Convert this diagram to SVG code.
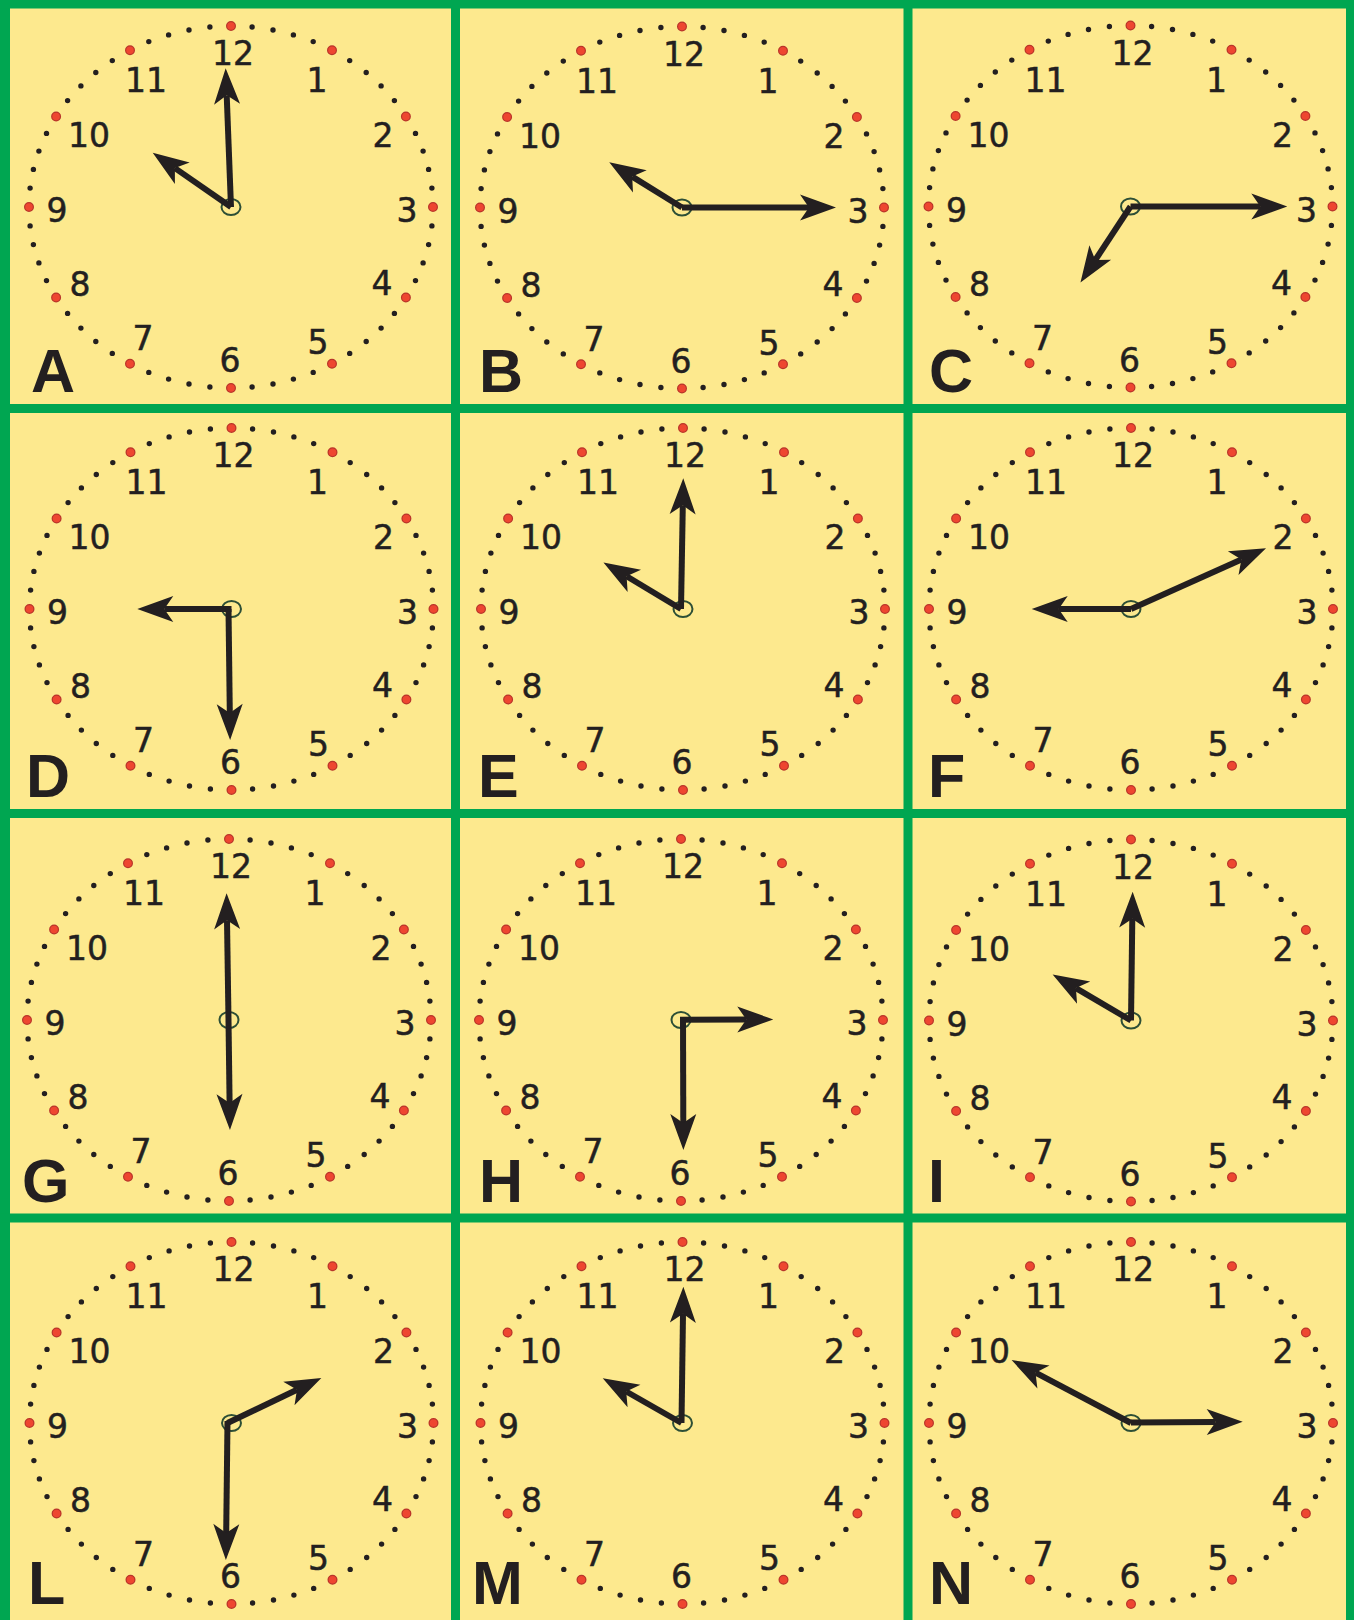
<svg xmlns="http://www.w3.org/2000/svg" xmlns:xlink="http://www.w3.org/1999/xlink" width="1354" height="1620" viewBox="0 0 1354 1620">
<style>
.bg{fill:#fde98e}
.grid{fill:#00a651}
.num{font-family:"DejaVu Sans",sans-serif;font-size:33px;fill:#231f20;stroke:#231f20;stroke-width:0.5;text-anchor:middle}
.lbl{font-family:"Liberation Sans",Arial,sans-serif;font-weight:bold;font-size:61px;fill:#231f20}
.hub{fill:none;stroke:#2d4f36;stroke-width:2}
.hand{fill:none;stroke:#231f20;stroke-width:6;marker-end:url(#head)}
</style>
<defs>
<marker id="head" markerUnits="userSpaceOnUse" orient="auto" refX="0" refY="0" markerWidth="60" markerHeight="60" overflow="visible">
<path d="M27,0 L-9,-13 L0,0 L-9,13 Z" fill="#231f20"/>
</marker>
<g id="dots">
<path fill="none" stroke="#231f20" stroke-width="5.4" stroke-linecap="round" d="M21.1,-180h0M42,-177h0M62.4,-172.1h0M82.2,-165.4h0M118.7,-146.4h0M135.2,-134.5h0M150.1,-121.1h0M163.4,-106.4h0M184.5,-73.6h0M192.1,-55.9h0M197.6,-37.6h0M200.9,-18.9h0M200.9,18.9h0M197.6,37.6h0M192.1,55.9h0M184.5,73.6h0M163.4,106.4h0M150.1,121.1h0M135.2,134.5h0M118.7,146.4h0M82.2,165.4h0M62.4,172.1h0M42,177h0M21.1,180h0M-21.1,180h0M-42,177h0M-62.4,172.1h0M-82.2,165.4h0M-118.7,146.4h0M-135.2,134.5h0M-150.1,121.1h0M-163.4,106.4h0M-184.5,73.6h0M-192.1,55.9h0M-197.6,37.6h0M-200.9,18.9h0M-200.9,-18.9h0M-197.6,-37.6h0M-192.1,-55.9h0M-184.5,-73.6h0M-163.4,-106.4h0M-150.1,-121.1h0M-135.2,-134.5h0M-118.7,-146.4h0M-82.2,-165.4h0M-62.4,-172.1h0M-42,-177h0M-21.1,-180h0"/>
<path fill="none" stroke="#b8352a" stroke-width="10" stroke-linecap="round" d="M0,-181h0M101,-156.8h0M174.9,-90.5h0M202,0h0M174.9,90.5h0M101,156.8h0M0,181h0M-101,156.8h0M-174.9,90.5h0M-202,0h0M-174.9,-90.5h0M-101,-156.8h0"/>
<path fill="none" stroke="#ee4630" stroke-width="7.6" stroke-linecap="round" d="M0,-181h0M101,-156.8h0M174.9,-90.5h0M202,0h0M174.9,90.5h0M101,156.8h0M0,181h0M-101,156.8h0M-174.9,90.5h0M-202,0h0M-174.9,-90.5h0M-101,-156.8h0"/>
</g>
</defs>
<rect class="bg" x="0" y="0" width="1354" height="1620"/>
<g id="grid">
<rect class="grid" x="0" y="0" width="10" height="1620"/>
<rect class="grid" x="451" y="0" width="9" height="1620"/>
<rect class="grid" x="903.5" y="0" width="9" height="1620"/>
<rect class="grid" x="1346" y="0" width="8" height="1620"/>
<rect class="grid" x="0" y="0" width="1354" height="8.5"/>
<rect class="grid" x="0" y="404" width="1354" height="9"/>
<rect class="grid" x="0" y="809" width="1354" height="9"/>
<rect class="grid" x="0" y="1213.5" width="1354" height="9"/>
</g>

<g id="clock-A">
<g transform="translate(231,207)">
<use xlink:href="#dots" href="#dots"/>
<text class="num" x="2" y="-142">12</text><text class="num" x="86" y="-115">1</text><text class="num" x="152" y="-60">2</text><text class="num" x="176" y="15">3</text><text class="num" x="151" y="88">4</text><text class="num" x="87" y="147">5</text><text class="num" x="-1" y="165">6</text><text class="num" x="-88" y="143">7</text><text class="num" x="-151" y="89">8</text><text class="num" x="-174" y="15">9</text><text class="num" x="-142" y="-60">10</text><text class="num" x="-85" y="-115">11</text>
<ellipse class="hub" cx="0" cy="0" rx="9.5" ry="8"/>
<path class="hand" d="M0,0 L-4.3,-111.7"/>
<path class="hand" d="M0,0 L-56.1,-38.9"/>
</g>
<text class="lbl" x="31" y="392">A</text>
</g>

<g id="clock-B">
<g transform="translate(682,207.5)">
<use xlink:href="#dots" href="#dots"/>
<text class="num" x="2" y="-142">12</text><text class="num" x="86" y="-115">1</text><text class="num" x="152" y="-60">2</text><text class="num" x="176" y="15">3</text><text class="num" x="151" y="88">4</text><text class="num" x="87" y="147">5</text><text class="num" x="-1" y="165">6</text><text class="num" x="-88" y="143">7</text><text class="num" x="-151" y="89">8</text><text class="num" x="-174" y="15">9</text><text class="num" x="-142" y="-60">10</text><text class="num" x="-85" y="-115">11</text>
<ellipse class="hub" cx="0" cy="0" rx="9.5" ry="8"/>
<path class="hand" d="M0,0 L127,0"/>
<path class="hand" d="M0,0 L-49.8,-30.9"/>
</g>
<text class="lbl" x="479" y="392">B</text>
</g>

<g id="clock-C">
<g transform="translate(1130.5,206.5)">
<use xlink:href="#dots" href="#dots"/>
<text class="num" x="2" y="-142">12</text><text class="num" x="86" y="-115">1</text><text class="num" x="152" y="-60">2</text><text class="num" x="176" y="15">3</text><text class="num" x="151" y="88">4</text><text class="num" x="87" y="147">5</text><text class="num" x="-1" y="165">6</text><text class="num" x="-88" y="143">7</text><text class="num" x="-151" y="89">8</text><text class="num" x="-174" y="15">9</text><text class="num" x="-142" y="-60">10</text><text class="num" x="-85" y="-115">11</text>
<ellipse class="hub" cx="0" cy="0" rx="9.5" ry="8"/>
<path class="hand" d="M0,0 L129.8,0"/>
<path class="hand" d="M0,0 L-35.2,53.5"/>
</g>
<text class="lbl" x="929" y="392">C</text>
</g>

<g id="clock-D">
<g transform="translate(231.5,609)">
<use xlink:href="#dots" href="#dots"/>
<text class="num" x="2" y="-142">12</text><text class="num" x="86" y="-115">1</text><text class="num" x="152" y="-60">2</text><text class="num" x="176" y="15">3</text><text class="num" x="151" y="88">4</text><text class="num" x="87" y="147">5</text><text class="num" x="-1" y="165">6</text><text class="num" x="-88" y="143">7</text><text class="num" x="-151" y="89">8</text><text class="num" x="-174" y="15">9</text><text class="num" x="-142" y="-60">10</text><text class="num" x="-85" y="-115">11</text>
<ellipse class="hub" cx="0" cy="0" rx="9.5" ry="8"/>
<path class="hand" d="M0,0 L-67.2,0"/>
<path class="hand" d="M-3,0 L-1.7,104"/>
</g>
<text class="lbl" x="26" y="797">D</text>
</g>

<g id="clock-E">
<g transform="translate(683,609)">
<use xlink:href="#dots" href="#dots"/>
<text class="num" x="2" y="-142">12</text><text class="num" x="86" y="-115">1</text><text class="num" x="152" y="-60">2</text><text class="num" x="176" y="15">3</text><text class="num" x="151" y="88">4</text><text class="num" x="87" y="147">5</text><text class="num" x="-1" y="165">6</text><text class="num" x="-88" y="143">7</text><text class="num" x="-151" y="89">8</text><text class="num" x="-174" y="15">9</text><text class="num" x="-142" y="-60">10</text><text class="num" x="-85" y="-115">11</text>
<ellipse class="hub" cx="0" cy="0" rx="9.5" ry="8"/>
<path class="hand" d="M-2,0 L-0.2,-103.7"/>
<path class="hand" d="M-2,0 L-56.4,-32.7"/>
</g>
<text class="lbl" x="478" y="797">E</text>
</g>

<g id="clock-F">
<g transform="translate(1131,609)">
<use xlink:href="#dots" href="#dots"/>
<text class="num" x="2" y="-142">12</text><text class="num" x="86" y="-115">1</text><text class="num" x="152" y="-60">2</text><text class="num" x="176" y="15">3</text><text class="num" x="151" y="88">4</text><text class="num" x="87" y="147">5</text><text class="num" x="-1" y="165">6</text><text class="num" x="-88" y="143">7</text><text class="num" x="-151" y="89">8</text><text class="num" x="-174" y="15">9</text><text class="num" x="-142" y="-60">10</text><text class="num" x="-85" y="-115">11</text>
<ellipse class="hub" cx="0" cy="0" rx="9.5" ry="8"/>
<path class="hand" d="M0,0 L-72.3,0"/>
<path class="hand" d="M0,0 L110.4,-49.6"/>
</g>
<text class="lbl" x="928" y="797">F</text>
</g>

<g id="clock-G">
<g transform="translate(229,1020)">
<use xlink:href="#dots" href="#dots"/>
<text class="num" x="2" y="-142">12</text><text class="num" x="86" y="-115">1</text><text class="num" x="152" y="-60">2</text><text class="num" x="176" y="15">3</text><text class="num" x="151" y="88">4</text><text class="num" x="87" y="147">5</text><text class="num" x="-1" y="165">6</text><text class="num" x="-88" y="143">7</text><text class="num" x="-151" y="89">8</text><text class="num" x="-174" y="15">9</text><text class="num" x="-142" y="-60">10</text><text class="num" x="-85" y="-115">11</text>
<ellipse class="hub" cx="0" cy="0" rx="9.5" ry="8"/>
<path class="hand" d="M-0.5,0 L-2,-99.7"/>
<path class="hand" d="M-0.5,0 L0.6,83"/>
</g>
<text class="lbl" x="22" y="1202">G</text>
</g>

<g id="clock-H">
<g transform="translate(681,1020)">
<use xlink:href="#dots" href="#dots"/>
<text class="num" x="2" y="-142">12</text><text class="num" x="86" y="-115">1</text><text class="num" x="152" y="-60">2</text><text class="num" x="176" y="15">3</text><text class="num" x="151" y="88">4</text><text class="num" x="87" y="147">5</text><text class="num" x="-1" y="165">6</text><text class="num" x="-88" y="143">7</text><text class="num" x="-151" y="89">8</text><text class="num" x="-174" y="15">9</text><text class="num" x="-142" y="-60">10</text><text class="num" x="-85" y="-115">11</text>
<ellipse class="hub" cx="0" cy="0" rx="9.5" ry="8"/>
<path class="hand" d="M-1,-0.3 L65.3,-0.5"/>
<path class="hand" d="M2,-3 L2.3,103"/>
</g>
<text class="lbl" x="479" y="1202">H</text>
</g>

<g id="clock-I">
<g transform="translate(1131,1020.5)">
<use xlink:href="#dots" href="#dots"/>
<text class="num" x="2" y="-142">12</text><text class="num" x="86" y="-115">1</text><text class="num" x="152" y="-60">2</text><text class="num" x="176" y="15">3</text><text class="num" x="151" y="88">4</text><text class="num" x="87" y="147">5</text><text class="num" x="-1" y="165">6</text><text class="num" x="-88" y="143">7</text><text class="num" x="-151" y="89">8</text><text class="num" x="-174" y="15">9</text><text class="num" x="-142" y="-60">10</text><text class="num" x="-85" y="-115">11</text>
<ellipse class="hub" cx="0" cy="0" rx="9.5" ry="8"/>
<path class="hand" d="M0,0 L1.3,-101.8"/>
<path class="hand" d="M0,0 L-55.1,-32.4"/>
</g>
<text class="lbl" x="928" y="1202">I</text>
</g>

<g id="clock-L">
<g transform="translate(231.5,1423)">
<use xlink:href="#dots" href="#dots"/>
<text class="num" x="2" y="-142">12</text><text class="num" x="86" y="-115">1</text><text class="num" x="152" y="-60">2</text><text class="num" x="176" y="15">3</text><text class="num" x="151" y="88">4</text><text class="num" x="87" y="147">5</text><text class="num" x="-1" y="165">6</text><text class="num" x="-88" y="143">7</text><text class="num" x="-151" y="89">8</text><text class="num" x="-174" y="15">9</text><text class="num" x="-142" y="-60">10</text><text class="num" x="-85" y="-115">11</text>
<ellipse class="hub" cx="0" cy="0" rx="9.5" ry="8"/>
<path class="hand" d="M-4,0 L65.5,-33.3"/>
<path class="hand" d="M-4,-2 L-5.3,110"/>
</g>
<text class="lbl" x="28" y="1604">L</text>
</g>

<g id="clock-M">
<g transform="translate(682.5,1423)">
<use xlink:href="#dots" href="#dots"/>
<text class="num" x="2" y="-142">12</text><text class="num" x="86" y="-115">1</text><text class="num" x="152" y="-60">2</text><text class="num" x="176" y="15">3</text><text class="num" x="151" y="88">4</text><text class="num" x="87" y="147">5</text><text class="num" x="-1" y="165">6</text><text class="num" x="-88" y="143">7</text><text class="num" x="-151" y="89">8</text><text class="num" x="-174" y="15">9</text><text class="num" x="-142" y="-60">10</text><text class="num" x="-85" y="-115">11</text>
<ellipse class="hub" cx="0" cy="0" rx="9.5" ry="8"/>
<path class="hand" d="M-1,0 L0.5,-109.3"/>
<path class="hand" d="M-1,0 L-56.3,-31.5"/>
</g>
<text class="lbl" x="472" y="1604">M</text>
</g>

<g id="clock-N">
<g transform="translate(1131,1423)">
<use xlink:href="#dots" href="#dots"/>
<text class="num" x="2" y="-142">12</text><text class="num" x="86" y="-115">1</text><text class="num" x="152" y="-60">2</text><text class="num" x="176" y="15">3</text><text class="num" x="151" y="88">4</text><text class="num" x="87" y="147">5</text><text class="num" x="-1" y="165">6</text><text class="num" x="-88" y="143">7</text><text class="num" x="-151" y="89">8</text><text class="num" x="-174" y="15">9</text><text class="num" x="-142" y="-60">10</text><text class="num" x="-85" y="-115">11</text>
<ellipse class="hub" cx="0" cy="0" rx="9.5" ry="8"/>
<path class="hand" d="M0,-0.5 L84.7,-1"/>
<path class="hand" d="M0,0 L-95.5,-50.3"/>
</g>
<text class="lbl" x="929" y="1604">N</text>
</g>
</svg>
